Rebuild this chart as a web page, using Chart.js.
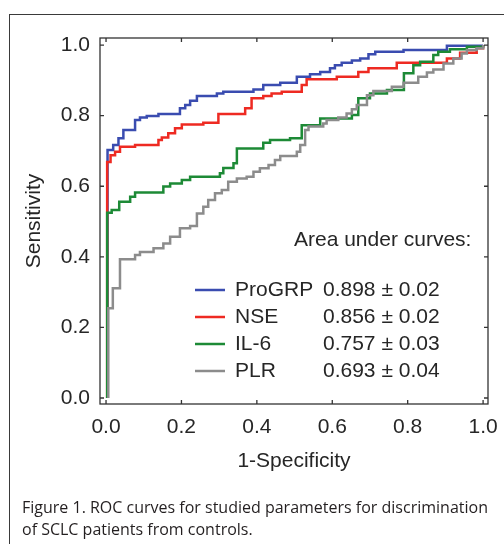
<!DOCTYPE html>
<html>
<head>
<meta charset="utf-8">
<script src="https://cdn.jsdelivr.net/npm/chart.js@4"></script>
<style>
  html, body { margin: 0; padding: 0; background: #fff; overflow: hidden; }
  #wrap { position: relative; width: 504px; height: 544px; }
  #frame { position: absolute; left: 9px; top: 14px; width: 600px; height: 600px; border: 1.5px solid #3a3a3a; }
  #chart { position: absolute; left: 0; top: 0; }
  #caption { position: absolute; left: 22px; top: 496px; font: 16px "Open Sans"; line-height: 22px; color: #231f20; white-space: nowrap; }
</style>
</head>
<body>
<div id="wrap">
  <div id="frame"></div>
  <canvas id="chart" width="504" height="544"></canvas>
  <div id="caption">Figure 1. ROC curves for studied parameters for discrimination<br>of SCLC patients from controls.</div>
</div>
<script>
const tickValues = [0, 0.2, 0.4, 0.6, 0.8, 1.0];
const seriesNames = ["ProGRP", "NSE", "IL-6", "PLR"];
const seriesColors = ["#3a4cb0", "#ee2a22", "#1d8a36", "#8c8c8c"];
const aucText = ["0.898 \u00b1 0.02", "0.856 \u00b1 0.02", "0.757 \u00b1 0.03", "0.693 \u00b1 0.04"];

// 1-specificity (x) and sensitivity (y) at each step
const progrpFpr = [0.004, 0.004, 0.019, 0.033, 0.046, 0.077, 0.090, 0.108, 0.139, 0.196, 0.210, 0.223, 0.241, 0.294, 0.311, 0.391, 0.417, 0.462, 0.506, 0.541, 0.568, 0.594, 0.607, 0.625, 0.652, 0.674, 0.696, 0.714, 0.789, 0.904, 1.0];
const progrpTpr = [0, 0.703, 0.717, 0.736, 0.759, 0.788, 0.795, 0.799, 0.805, 0.821, 0.830, 0.842, 0.856, 0.863, 0.868, 0.874, 0.887, 0.893, 0.910, 0.917, 0.924, 0.934, 0.943, 0.950, 0.956, 0.962, 0.974, 0.981, 0.986, 0.998, 1.0];

const nseFpr = [0.003, 0.003, 0.012, 0.024, 0.037, 0.077, 0.139, 0.148, 0.165, 0.183, 0.201, 0.258, 0.298, 0.369, 0.386, 0.417, 0.439, 0.466, 0.519, 0.532, 0.612, 0.669, 0.696, 0.771, 0.904, 0.939, 0.983, 1.0];
const nseTpr = [0, 0.669, 0.688, 0.698, 0.712, 0.717, 0.731, 0.738, 0.750, 0.764, 0.775, 0.780, 0.805, 0.821, 0.849, 0.856, 0.863, 0.868, 0.887, 0.903, 0.910, 0.924, 0.934, 0.950, 0.962, 0.978, 0.991, 1.0];

const il6Fpr = [0.003, 0.003, 0.015, 0.035, 0.064, 0.077, 0.152, 0.170, 0.201, 0.223, 0.302, 0.311, 0.338, 0.347, 0.417, 0.435, 0.488, 0.519, 0.568, 0.652, 0.669, 0.700, 0.745, 0.790, 0.815, 0.833, 0.868, 0.881, 0.912, 0.957, 1.0];
const il6Tpr = [0, 0.525, 0.533, 0.556, 0.570, 0.582, 0.599, 0.608, 0.618, 0.627, 0.637, 0.652, 0.665, 0.707, 0.723, 0.731, 0.736, 0.773, 0.792, 0.802, 0.849, 0.863, 0.873, 0.920, 0.943, 0.953, 0.972, 0.981, 0.988, 0.995, 1.0];

const plrFpr = [0.006, 0.006, 0.018, 0.037, 0.077, 0.090, 0.126, 0.152, 0.170, 0.196, 0.223, 0.241, 0.258, 0.271, 0.289, 0.307, 0.324, 0.347, 0.373, 0.391, 0.408, 0.431, 0.448, 0.462, 0.506, 0.515, 0.528, 0.537, 0.576, 0.585, 0.616, 0.638, 0.652, 0.665, 0.692, 0.709, 0.758, 0.789, 0.828, 0.851, 0.868, 0.895, 0.921, 0.943, 0.957, 0.983, 1.0];
const plrTpr = [0, 0.254, 0.311, 0.393, 0.405, 0.414, 0.424, 0.438, 0.457, 0.481, 0.487, 0.523, 0.542, 0.561, 0.580, 0.589, 0.613, 0.622, 0.627, 0.641, 0.651, 0.660, 0.674, 0.686, 0.698, 0.717, 0.759, 0.769, 0.778, 0.788, 0.795, 0.806, 0.818, 0.830, 0.858, 0.870, 0.882, 0.893, 0.910, 0.922, 0.931, 0.948, 0.962, 0.976, 0.986, 0.991, 1.0];

const fprs = [progrpFpr, nseFpr, il6Fpr, plrFpr];
const tprs = [progrpTpr, nseTpr, il6Tpr, plrTpr];

Chart.defaults.font.family = "'Liberation Sans', Arial, sans-serif";
Chart.defaults.font.size = 21;
Chart.defaults.color = "#262626";

// box, inward ticks on all sides, legend with AUC values
const frameAndLegend = {
  id: "frameAndLegend",
  afterDatasetsDraw(chart) {
    const { ctx, chartArea: a, scales: { x, y } } = chart;
    ctx.save();
    ctx.strokeStyle = "#333";
    ctx.lineWidth = 1.3;
    ctx.strokeRect(a.left, a.top, a.right - a.left, a.bottom - a.top);
    ctx.beginPath();
    tickValues.forEach(v => {
      const px = x.getPixelForValue(v), py = y.getPixelForValue(v);
      ctx.moveTo(px, a.bottom); ctx.lineTo(px, a.bottom - 4);
      ctx.moveTo(px, a.top); ctx.lineTo(px, a.top + 4);
      ctx.moveTo(a.left, py); ctx.lineTo(a.left + 4, py);
      ctx.moveTo(a.right, py); ctx.lineTo(a.right - 4, py);
    });
    ctx.stroke();

    ctx.font = "21px 'Liberation Sans', Arial, sans-serif";
    ctx.fillStyle = "#262626";
    ctx.textBaseline = "middle";
    ctx.fillText("Area under curves:", a.left + 194, a.top + 202);
    seriesNames.forEach((name, i) => {
      const ly = a.top + 252 + i * 27;
      ctx.strokeStyle = seriesColors[i];
      ctx.lineWidth = 2.5;
      ctx.beginPath();
      ctx.moveTo(a.left + 95, ly); ctx.lineTo(a.left + 125, ly);
      ctx.stroke();
      ctx.fillText(name, a.left + 135, ly);
      ctx.fillText(aucText[i], a.left + 223, ly);
    });
    ctx.restore();
  }
};

new Chart(document.getElementById("chart"), {
  type: "scatter",
  data: {
    datasets: seriesNames.map((name, i) => ({
      label: name,
      data: fprs[i].map((fx, j) => ({ x: fx, y: tprs[i][j] })),
      showLine: true,
      stepped: "before",
      borderColor: seriesColors[i],
      borderWidth: 2.5,
      pointRadius: 0,
      order: 3 - i
    }))
  },
  options: {
    responsive: false,
    animation: false,
    layout: { padding: { left: 0, top: 38, right: 16, bottom: 0 } },
    plugins: { legend: { display: false }, tooltip: { enabled: false } },
    scales: {
      x: {
        type: "linear",
        min: -0.016,
        max: 1.013,
        afterBuildTicks: s => { s.ticks = tickValues.map(v => ({ value: v })); },
        afterFit: s => { s.height = 140; s.paddingLeft = 0; s.paddingRight = 0; },
        grid: { display: false, drawTicks: false },
        border: { display: false },
        ticks: { padding: 11, callback: v => v.toFixed(1) },
        title: { display: true, text: "1-Specificity", padding: { top: 0, bottom: 70 } }
      },
      y: {
        type: "linear",
        min: -0.017,
        max: 1.02,
        afterBuildTicks: s => { s.ticks = tickValues.map(v => ({ value: v })); },
        afterFit: s => { s.width = 100; s.paddingTop = 0; s.paddingBottom = 0; },
        grid: { display: false, drawTicks: false },
        border: { display: false },
        ticks: { padding: 10, callback: v => v.toFixed(1) },
        title: { display: true, text: "Sensitivity", padding: { top: 22, bottom: 0 } }
      }
    }
  },
  plugins: [frameAndLegend]
});
</script>
</body>
</html>
